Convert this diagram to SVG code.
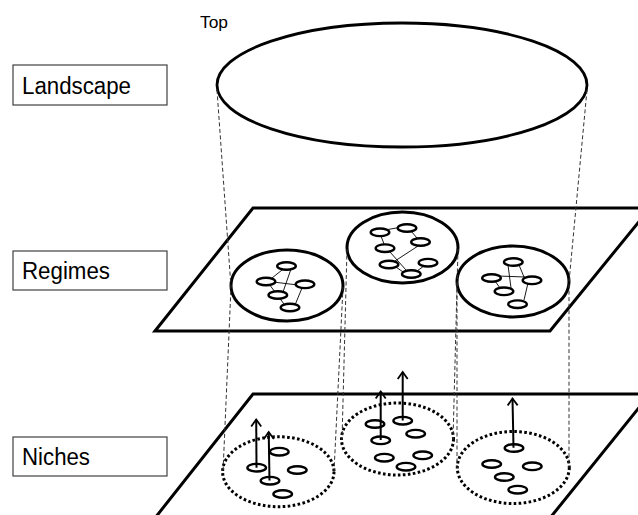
<svg xmlns="http://www.w3.org/2000/svg" width="638" height="515" viewBox="0 0 638 515">
<style>
.lbl{fill:#fff;stroke:#404040;stroke-width:1.2}
.lt{font-family:"Liberation Sans",Arial,sans-serif;font-size:23px;fill:#000}
.plane{fill:none;stroke:#000;stroke-width:3;stroke-linejoin:miter}
.big{fill:#fff;stroke:#000;stroke-width:3}
.dot{fill:none;stroke:#000;stroke-width:3;stroke-dasharray:2.6 2.4}
.sm{fill:#fff;stroke:#000;stroke-width:2.4}
.ln{stroke:#000;stroke-width:0.9;fill:none}
.dash{stroke:#333;stroke-width:1;stroke-dasharray:4 2.5;fill:none}
</style>
<defs>
<marker id="head" markerUnits="userSpaceOnUse" viewBox="-8 -8 16 16" refX="0" refY="0" markerWidth="16" markerHeight="16" orient="auto">
<path d="M-7,-5 L0,0 L-7,5" fill="none" stroke="#000" stroke-width="1.8"/>
</marker>
</defs>

<text x="200" y="28" font-family="Liberation Sans, Arial, sans-serif" font-size="16" textLength="28" lengthAdjust="spacingAndGlyphs">Top</text>

<g id="label-landscape">
<rect class="lbl" x="13" y="65" width="154" height="40"/>
<text class="lt" x="22" y="94" textLength="109" lengthAdjust="spacingAndGlyphs">Landscape</text>
</g>
<g id="label-regimes">
<rect class="lbl" x="13" y="251" width="154" height="39"/>
<text class="lt" x="22" y="279" textLength="88" lengthAdjust="spacingAndGlyphs">Regimes</text>
</g>
<g id="label-niches">
<rect class="lbl" x="13" y="437" width="154" height="39"/>
<text class="lt" x="22" y="465" textLength="68" lengthAdjust="spacingAndGlyphs">Niches</text>
</g>

<g id="landscape">
<ellipse cx="402" cy="85" rx="185" ry="62" fill="#fff" stroke="#000" stroke-width="2.8"/>
</g>

<g id="regimes-plane">
<path class="plane" d="M155,331 L253,208 L650,208 L550,331 Z"/>
</g>

<g id="niches-plane">
<path class="plane" d="M155,518 L253,394 L650,394 L550,518"/>
</g>

<g id="regime-left">
<ellipse class="big" cx="287" cy="285.5" rx="56" ry="35.5"/>
<g class="ln">
<line x1="272" y1="278" x2="282" y2="270"/>
<line x1="273" y1="282" x2="298" y2="285"/>
<line x1="291" y1="269" x2="283" y2="292"/>
<line x1="269" y1="284" x2="284" y2="304"/>
<line x1="302" y1="288" x2="295" y2="305"/>
</g>
<ellipse class="sm" cx="286.5" cy="266" rx="9.3" ry="3.8"/>
<ellipse class="sm" cx="266" cy="281.5" rx="9.3" ry="3.8"/>
<ellipse class="sm" cx="305" cy="284.3" rx="9.3" ry="3.8"/>
<ellipse class="sm" cx="277.8" cy="295" rx="9.3" ry="3.8"/>
<ellipse class="sm" cx="290" cy="307.5" rx="9.3" ry="3.8"/>
</g>

<g id="regime-middle">
<ellipse class="big" cx="402.5" cy="247.5" rx="55.5" ry="35.5"/>
<g class="ln">
<line x1="385" y1="230" x2="402" y2="227"/>
<line x1="381" y1="236" x2="384" y2="244"/>
<line x1="411" y1="231" x2="417" y2="238"/>
<line x1="390" y1="252" x2="406" y2="270"/>
<line x1="418" y1="246" x2="395" y2="261"/>
<line x1="424" y1="266" x2="417" y2="271"/>
<line x1="396" y1="267" x2="403" y2="272"/>
</g>
<ellipse class="sm" cx="380" cy="232.3" rx="9.3" ry="3.8"/>
<ellipse class="sm" cx="407" cy="228" rx="9.3" ry="3.8"/>
<ellipse class="sm" cx="420.5" cy="242" rx="9.3" ry="3.8"/>
<ellipse class="sm" cx="385" cy="248.2" rx="9.3" ry="3.8"/>
<ellipse class="sm" cx="389" cy="264.5" rx="9.3" ry="3.8"/>
<ellipse class="sm" cx="428" cy="262.7" rx="9.3" ry="3.8"/>
<ellipse class="sm" cx="411.3" cy="274" rx="9.3" ry="3.8"/>
</g>

<g id="regime-right">
<ellipse class="big" cx="513" cy="281.5" rx="56" ry="35.5"/>
<g class="ln">
<line x1="498" y1="276" x2="525" y2="277"/>
<line x1="508" y1="265" x2="511" y2="288"/>
<line x1="519" y1="265" x2="524" y2="277"/>
<line x1="495" y1="281" x2="500" y2="288"/>
<line x1="528" y1="283" x2="524" y2="300"/>
</g>
<ellipse class="sm" cx="513.3" cy="262" rx="9.3" ry="3.8"/>
<ellipse class="sm" cx="491.5" cy="278" rx="9.3" ry="3.8"/>
<ellipse class="sm" cx="532" cy="280.3" rx="9.3" ry="3.8"/>
<ellipse class="sm" cx="504" cy="291.3" rx="9.3" ry="3.8"/>
<ellipse class="sm" cx="517.5" cy="304.2" rx="9.3" ry="3.8"/>
</g>

<g id="niche-left">
<ellipse class="dot" cx="278.3" cy="471.7" rx="55.7" ry="35"/>
<ellipse class="sm" cx="279.3" cy="451.7" rx="9.3" ry="3.8"/>
<ellipse class="sm" cx="256.7" cy="467.7" rx="9.3" ry="3.8"/>
<ellipse class="sm" cx="297.3" cy="470" rx="9.3" ry="3.8"/>
<ellipse class="sm" cx="270" cy="480.7" rx="9.3" ry="3.8"/>
<ellipse class="sm" cx="282.7" cy="494" rx="9.3" ry="3.8"/>
</g>

<g id="niche-middle">
<ellipse class="dot" cx="397.5" cy="439" rx="56" ry="36"/>
<ellipse class="sm" cx="375" cy="424" rx="9.3" ry="3.8"/>
<ellipse class="sm" cx="402.7" cy="420.7" rx="9.3" ry="3.8"/>
<ellipse class="sm" cx="415.7" cy="433.7" rx="9.3" ry="3.8"/>
<ellipse class="sm" cx="380.7" cy="440.3" rx="9.3" ry="3.8"/>
<ellipse class="sm" cx="384.3" cy="457.7" rx="9.3" ry="3.8"/>
<ellipse class="sm" cx="422.7" cy="455.3" rx="9.3" ry="3.8"/>
<ellipse class="sm" cx="406" cy="466.7" rx="9.3" ry="3.8"/>
</g>

<g id="niche-right">
<ellipse class="dot" cx="513.3" cy="467.5" rx="56" ry="36"/>
<ellipse class="sm" cx="514" cy="448" rx="9.3" ry="3.8"/>
<ellipse class="sm" cx="491.7" cy="464" rx="9.3" ry="3.8"/>
<ellipse class="sm" cx="532.3" cy="466.3" rx="9.3" ry="3.8"/>
<ellipse class="sm" cx="504.3" cy="477" rx="9.3" ry="3.8"/>
<ellipse class="sm" cx="517.7" cy="489.7" rx="9.3" ry="3.8"/>
</g>

<g id="connectors">
<polyline class="dash" points="217,90 231,287 223,472"/>
<polyline class="dash" points="587,90 569,282 569,468"/>
<line class="dash" x1="343" y1="287" x2="334" y2="472"/>
<line class="dash" x1="347" y1="249" x2="342" y2="440"/>
<line class="dash" x1="458" y1="249" x2="453" y2="440"/>
<line class="dash" x1="457" y1="283" x2="457" y2="468"/>
<g stroke="#000" stroke-width="2" fill="none" marker-end="url(#head)">
<line x1="256.5" y1="467.7" x2="256.2" y2="419.5"/>
<line x1="269.5" y1="480.5" x2="268.7" y2="432"/>
<line x1="380.7" y1="440" x2="380.7" y2="391.5"/>
<line x1="402.7" y1="420.5" x2="402.7" y2="372"/>
<line x1="513.5" y1="447.8" x2="512.5" y2="398.5"/>
</g>
</g>
</svg>
